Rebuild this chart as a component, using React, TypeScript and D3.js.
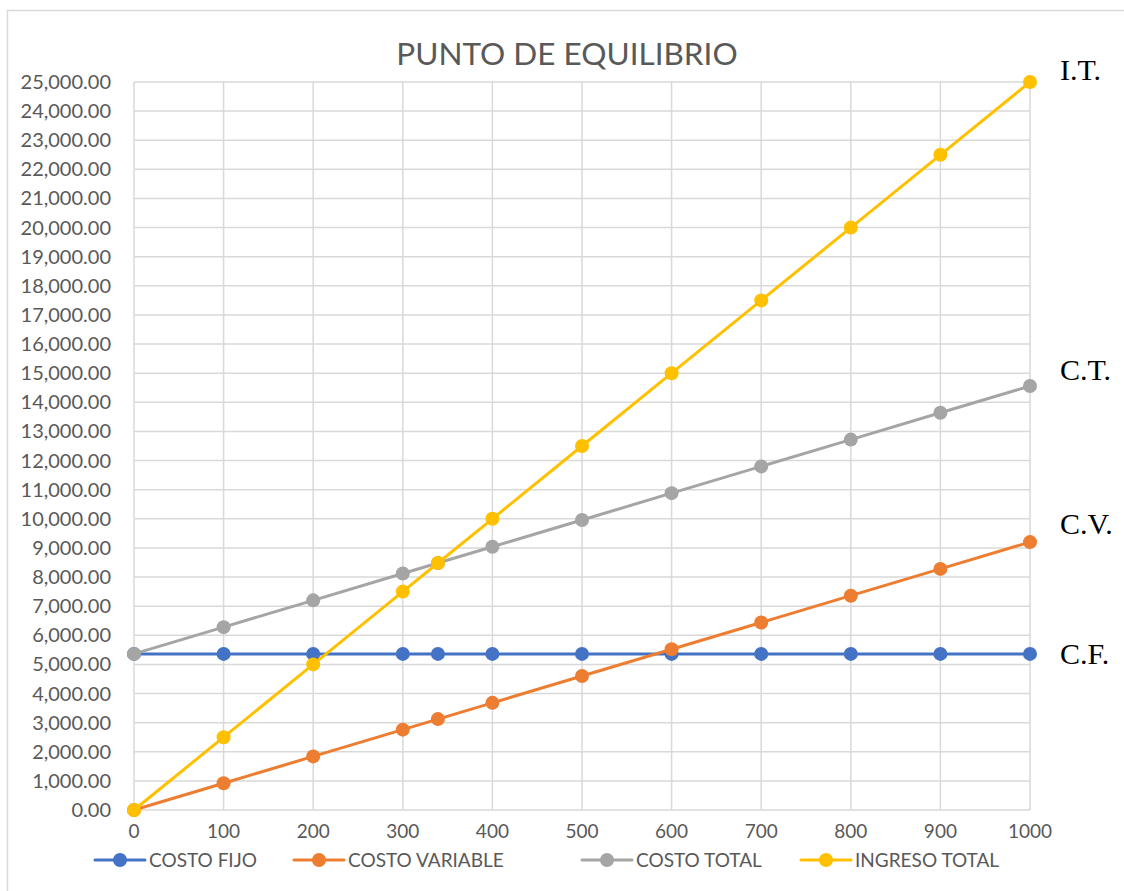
import * as d3 from "d3";

// units sold (includes the break-even point)
const unidades = [0, 100, 200, 300, 339.24, 400, 500, 600, 700, 800, 900, 1000];
const costoFijo = [5360, 5360, 5360, 5360, 5360, 5360, 5360, 5360, 5360, 5360, 5360, 5360];
const costoVariable = [0, 920, 1840, 2760, 3121, 3680, 4600, 5520, 6440, 7360, 8280, 9200];
const costoTotal = [5360, 6280, 7200, 8120, 8481, 9040, 9960, 10880, 11800, 12720, 13640, 14560];
const ingresoTotal = [0, 2500, 5000, 7500, 8481, 10000, 12500, 15000, 17500, 20000, 22500, 25000];

const xTicks = [0, 100, 200, 300, 400, 500, 600, 700, 800, 900, 1000];
const yTicks = d3.range(0, 25001, 1000);

const series = [
  { name: "COSTO FIJO", tag: "C.F.", values: costoFijo, color: "#4472C4" },
  { name: "COSTO VARIABLE", tag: "C.V.", values: costoVariable, color: "#ED7D31" },
  { name: "COSTO TOTAL", tag: "C.T.", values: costoTotal, color: "#A5A5A5" },
  { name: "INGRESO TOTAL", tag: "I.T.", values: ingresoTotal, color: "#FFC000" },
];

const width = 1124;
const height = 891;
const margin = { top: 82, right: 94, bottom: 81, left: 134 };
const font = "Lato, 'Open Sans', sans-serif";
const textColor = "#595959";

export default function App() {
  const x = d3
    .scaleLinear()
    .domain([0, 1000])
    .range([margin.left, width - margin.right]);
  const y = d3
    .scaleLinear()
    .domain([0, 25000])
    .range([height - margin.bottom, margin.top]);
  const fmt = d3.format(",.2f");
  const line = d3
    .line<number>()
    .x((_, i) => x(unidades[i]))
    .y((d) => y(d));

  const legendX = [95, 294, 582, 801];

  return (
    <svg
      width={width}
      height={height}
      style={{ position: "absolute", left: 0, top: 0, background: "#fff" }}
    >
      <rect x={0} y={0} width={width} height={height} fill="#fff" />
      <rect
        x={7.5}
        y={10.5}
        width={width + 10}
        height={height + 10}
        fill="none"
        stroke="#d9d9d9"
        strokeWidth={1.5}
      />
      <text
        x={567}
        y={65}
        textAnchor="middle"
        fontFamily={font}
        fontSize={31.5}
        fill={textColor}
      >
        PUNTO DE EQUILIBRIO
      </text>

      {/* grid */}
      <g stroke="#d9d9d9" strokeWidth={1.5}>
        {yTicks.map((t) => (
          <line key={"h" + t} x1={x(0)} x2={x(1000)} y1={y(t)} y2={y(t)} />
        ))}
        {xTicks.map((t) => (
          <line key={"v" + t} x1={x(t)} x2={x(t)} y1={y(0)} y2={y(25000)} />
        ))}
      </g>

      {/* y labels */}
      <g fontFamily={font} fontSize={20} fill={textColor} textAnchor="end">
        {yTicks.map((t) => (
          <text key={t} x={111} y={y(t)} dy="0.35em">
            {fmt(t)}
          </text>
        ))}
      </g>
      {/* x labels */}
      <g fontFamily={font} fontSize={19} fill={textColor} textAnchor="middle">
        {xTicks.map((t) => (
          <text key={t} x={x(t)} y={838}>
            {t}
          </text>
        ))}
      </g>

      {/* series */}
      {series.map((s) => (
        <g key={s.name}>
          <path
            d={line(s.values) || ""}
            fill="none"
            stroke={s.color}
            strokeWidth={3}
            strokeLinejoin="round"
          />
          {s.values.map((v, i) => (
            <circle key={i} cx={x(unidades[i])} cy={y(v)} r={7} fill={s.color} />
          ))}
        </g>
      ))}

      {/* end tags */}
      <g fontFamily="'Liberation Serif', 'Times New Roman', serif" fontSize={30} fill="#000">
        {series.map((s) => {
          const last = s.values[s.values.length - 1];
          const off = s.tag === "I.T." ? -2 : s.tag === "C.T." ? -6 : s.tag === "C.V." ? -8 : 10;
          return (
            <text key={s.tag} x={x(1000) + 30} y={y(last) + off}>
              {s.tag}
            </text>
          );
        })}
      </g>

      {/* legend */}
      <g fontFamily={font} fontSize={19} fill={textColor}>
        {series.map((s, i) => (
          <g key={s.name} transform={`translate(${legendX[i]},860)`}>
            <line x1={0} x2={50} y1={0} y2={0} stroke={s.color} strokeWidth={3} strokeLinecap="round" />
            <circle cx={25} cy={0} r={7} fill={s.color} />
            <text x={54} y={0} dy="0.35em">
              {s.name}
            </text>
          </g>
        ))}
      </g>
    </svg>
  );
}
